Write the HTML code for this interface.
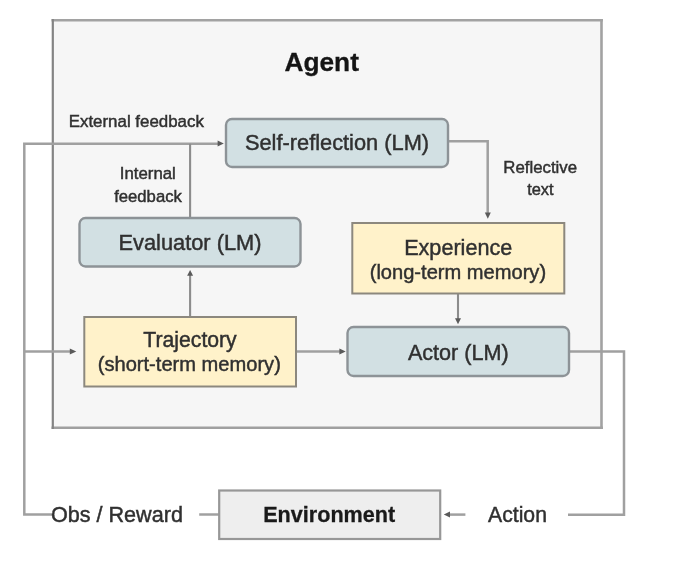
<!DOCTYPE html>
<html><head><meta charset="utf-8">
<style>
html,body{margin:0;padding:0;background:#fff;width:674px;height:573px;overflow:hidden}
svg{display:block;will-change:transform}
text{font-family:"Liberation Sans",sans-serif;fill:#303030;stroke:#303030;stroke-width:0.45px}
</style></head>
<body>
<svg width="674" height="573" viewBox="0 0 674 573">
<!-- Agent container -->
<rect x="52.8" y="20.2" width="548.7" height="407.5" fill="#f6f6f6"/>
<g fill="none">
<line x1="51.5" y1="20.2" x2="602.9" y2="20.2" stroke="#a2a2a2" stroke-width="2.6"/>
<line x1="51.5" y1="427.7" x2="602.9" y2="427.7" stroke="#a0a0a0" stroke-width="2.6"/>
<line x1="52.8" y1="19" x2="52.8" y2="429" stroke="#848484" stroke-width="2.2"/>
<line x1="601.5" y1="19" x2="601.5" y2="429" stroke="#a2a2a2" stroke-width="2.6"/>
</g>
<text x="321.7" y="71" font-size="26.3" font-weight="bold" text-anchor="middle" style="fill:#151515;stroke:#151515;stroke-width:0.3px">Agent</text>

<!-- lines -->
<g fill="none" stroke="#a0a0a0" stroke-width="2.5">
<polyline points="52,514.6 24.3,514.6 24.3,143.8 219,143.8"/>
<line x1="24.3" y1="351.5" x2="71" y2="351.5"/>
<line x1="296" y1="351.6" x2="341" y2="351.6"/>
<polyline points="448,141.3 487.7,141.3 487.7,214"/>
<polyline points="569,351.4 624,351.4 624,514.7 568,514.7"/>
<line x1="465.4" y1="514.6" x2="448" y2="514.6"/>
<line x1="199.2" y1="514.5" x2="219" y2="514.5"/>
</g>
<g fill="none" stroke="#8c8c8c" stroke-width="2.1">
<line x1="190.1" y1="218" x2="190.1" y2="143.8"/>
<line x1="190.1" y1="317" x2="190.1" y2="273"/>
<line x1="458" y1="293.5" x2="458" y2="320"/>
</g>
<!-- arrowheads -->
<g fill="#5a5a5a">
<path d="M223.8,143.5 L217.6,140.5 L217.6,146.5 z"/>
<path d="M190.1,270 L187.1,275.8 L193.1,275.8 z"/>
<path d="M487.8,218.8 L484.8,212.6 L490.8,212.6 z"/>
<path d="M458,324.3 L455,318.2 L461,318.2 z"/>
<path d="M76.3,351.5 L69.8,348.5 L69.8,354.5 z"/>
<path d="M345.7,351.6 L339.4,348.6 L339.4,354.6 z"/>
<path d="M443.8,514.5 L450,511.5 L450,517.5 z"/>
</g>

<!-- boxes -->
<rect x="226" y="119" width="222" height="48" rx="6" fill="#d2e0e3" stroke="#8d9397" stroke-width="2.4"/>
<rect x="79.5" y="218" width="221" height="48.5" rx="6" fill="#d2e0e3" stroke="#8d9397" stroke-width="2.4"/>
<rect x="352.3" y="223" width="212" height="70.5" fill="#fff2ca" stroke="#8c887e" stroke-width="2"/>
<rect x="84.3" y="317" width="211.7" height="69.5" fill="#fff2ca" stroke="#8c887e" stroke-width="2"/>
<rect x="347.5" y="327" width="221.5" height="49" rx="6" fill="#d2e0e3" stroke="#8d9397" stroke-width="2.4"/>
<rect x="219.2" y="490.5" width="221" height="48.5" fill="#eeeeee" stroke="#979797" stroke-width="2.2"/>

<!-- box text -->
<text x="337" y="150" font-size="21.8" text-anchor="middle">Self-reflection (LM)</text>
<text x="190" y="249.5" font-size="21.8" text-anchor="middle">Evaluator (LM)</text>
<text x="458.2" y="255" font-size="21.6" text-anchor="middle">Experience</text>
<text x="457.9" y="278.6" font-size="20.1" text-anchor="middle">(long-term memory)</text>
<text x="190" y="347.2" font-size="21.2" text-anchor="middle">Trajectory</text>
<text x="189.3" y="371" font-size="20.1" text-anchor="middle">(short-term memory)</text>
<text x="458.3" y="359.6" font-size="21.6" text-anchor="middle">Actor (LM)</text>
<text x="329.2" y="521.7" font-size="21.6" font-weight="bold" text-anchor="middle" style="fill:#1a1a1a;stroke:#1a1a1a;stroke-width:0.3px">Environment</text>

<!-- labels -->
<text x="136.3" y="127" font-size="16.9" text-anchor="middle">External feedback</text>
<text x="147.8" y="179.4" font-size="16.8" text-anchor="middle">Internal</text>
<text x="148" y="201.6" font-size="16.7" text-anchor="middle">feedback</text>
<text x="540.2" y="173" font-size="16.8" text-anchor="middle">Reflective</text>
<text x="540.4" y="195.4" font-size="16.4" text-anchor="middle">text</text>
<text x="116.9" y="522" font-size="21.6" text-anchor="middle">Obs / Reward</text>
<text x="517.5" y="522" font-size="21.2" text-anchor="middle">Action</text>
</svg>
</body></html>
